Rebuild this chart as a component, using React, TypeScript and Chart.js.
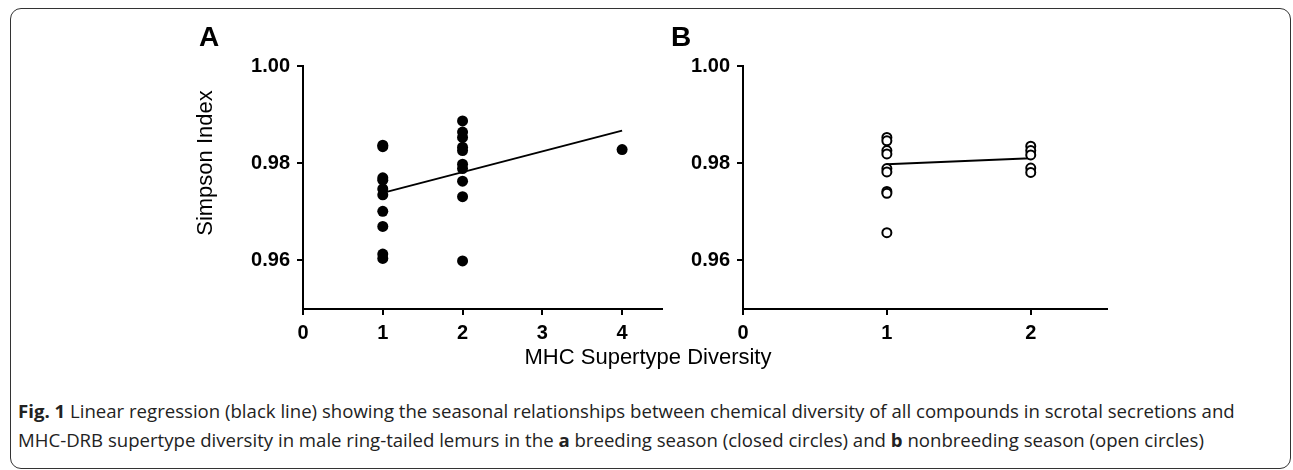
import React, { useEffect, useRef } from "react";
import { Chart, registerables } from "chart.js";

Chart.register(...registerables);

// ---- Data ----
const xTicksA = [0, 1, 2, 3, 4];
const xTicksB = [0, 1, 2];
const yTicks = [0.96, 0.98, 1.0];

const breedingX = [1, 1, 1, 1, 1, 1, 1, 1, 1, 1, 2, 2, 2, 2, 2, 2, 2, 2, 2, 2, 4];
const breedingY = [
  0.9837, 0.9834, 0.977, 0.9765, 0.9747, 0.9735, 0.9701, 0.967, 0.9613, 0.9604,
  0.9887, 0.9864, 0.9853, 0.9833, 0.9826, 0.9798, 0.9789, 0.9763, 0.9731, 0.9599,
  0.9828,
];
const breedingFitX = [1, 4];
const breedingFitY = [0.9739, 0.9867];

const nonbreedingX = [1, 1, 1, 1, 1, 1, 1, 1, 1, 2, 2, 2, 2, 2];
const nonbreedingY = [
  0.9853, 0.9846, 0.9826, 0.9819, 0.9789, 0.9782, 0.9742, 0.9738, 0.9657,
  0.9835, 0.9826, 0.9817, 0.979, 0.9781,
];
const nonbreedingFitX = [1, 2];
const nonbreedingFitY = [0.9798, 0.981];

const FONT = "'Liberation Sans', Arial, sans-serif";

function pts(xs: number[], ys: number[]) {
  return xs.map((x, i) => ({ x, y: ys[i] }));
}

function makeConfig(
  xs: number[],
  ys: number[],
  fx: number[],
  fy: number[],
  xTicks: number[],
  xMax: number,
  filled: boolean,
  padRight: number
): any {
  return {
    type: "scatter",
    data: {
      datasets: [
        {
          data: pts(xs, ys),
          pointRadius: filled ? 5.5 : 4.5,
          pointBorderWidth: filled ? 0 : 2,
          pointBackgroundColor: filled ? "#000" : "#fff",
          pointBorderColor: "#000",
          showLine: false,
        },
        {
          data: pts(fx, fy),
          showLine: true,
          borderColor: "#000",
          borderWidth: 2,
          pointRadius: 0,
          fill: false,
        },
      ],
    },
    options: {
      animation: false,
      responsive: false,
      devicePixelRatio: 1,
      layout: { padding: { top: 26, right: padRight, left: 0, bottom: 0 } },
      plugins: {
        legend: { display: false },
        tooltip: { enabled: false },
      },
      scales: {
        x: {
          type: "linear",
          min: 0,
          max: xMax,
          afterBuildTicks: (s: any) => {
            s.ticks = xTicks.map((v) => ({ value: v }));
          },
          afterFit: (s: any) => {
            s.height = 41;
          },
          ticks: {
            color: "#000",
            font: { family: FONT, size: 20, weight: "bold" },
            padding: 6,
            callback: (v: any) => String(v),
            maxRotation: 0,
          },
          grid: {
            display: true,
            drawOnChartArea: false,
            drawTicks: true,
            tickLength: 6,
            color: "#000",
            lineWidth: 2,
          },
          border: { display: true, color: "#000", width: 2 },
        },
        y: {
          type: "linear",
          min: 0.95,
          max: 1.0,
          afterBuildTicks: (s: any) => {
            s.ticks = yTicks.map((v) => ({ value: v }));
          },
          afterFit: (s: any) => {
            s.width = 103;
          },
          ticks: {
            color: "#000",
            font: { family: FONT, size: 20, weight: "bold" },
            padding: 7,
            callback: (v: any) => Number(v).toFixed(2),
          },
          grid: {
            display: true,
            drawOnChartArea: false,
            drawTicks: true,
            tickLength: 6,
            color: "#000",
            lineWidth: 2,
          },
          border: { display: true, color: "#000", width: 2 },
        },
      },
    },
  };
}

export default function App() {
  const refA = useRef<HTMLCanvasElement | null>(null);
  const refB = useRef<HTMLCanvasElement | null>(null);

  useEffect(() => {
    const a = new Chart(
      refA.current as HTMLCanvasElement,
      makeConfig(breedingX, breedingY, breedingFitX, breedingFitY, xTicksA, 4.5, true, 18)
    );
    const b = new Chart(
      refB.current as HTMLCanvasElement,
      makeConfig(nonbreedingX, nonbreedingY, nonbreedingFitX, nonbreedingFitY, xTicksB, 2.53, false, 23)
    );
    return () => {
      a.destroy();
      b.destroy();
    };
  }, []);

  return (
    <div
      style={{
        position: "fixed",
        left: 0,
        top: 0,
        width: 1293,
        height: 470,
        background: "#fff",
        overflow: "hidden",
      }}
    >
      <div
        style={{
          position: "absolute",
          left: 10,
          top: 8,
          width: 1279,
          height: 459,
          border: "1.5px solid #333",
          borderRadius: 11,
        }}
      />
      <canvas
        ref={refA}
        width={480}
        height={310}
        style={{ position: "absolute", left: 200, top: 40, width: 480, height: 310 }}
      />
      <canvas
        ref={refB}
        width={490}
        height={310}
        style={{ position: "absolute", left: 640, top: 40, width: 490, height: 310 }}
      />
      <div
        style={{
          position: "absolute",
          left: 199,
          top: 21,
          fontFamily: FONT,
          fontWeight: "bold",
          fontSize: 28,
          lineHeight: "32px",
        }}
      >
        A
      </div>
      <div
        style={{
          position: "absolute",
          left: 671,
          top: 21,
          fontFamily: FONT,
          fontWeight: "bold",
          fontSize: 28,
          lineHeight: "32px",
        }}
      >
        B
      </div>
      <div
        style={{
          position: "absolute",
          left: 205,
          top: 163,
          transform: "translate(-50%, -50%) rotate(-90deg)",
          fontFamily: FONT,
          fontSize: 22,
          whiteSpace: "nowrap",
        }}
      >
        Simpson Index
      </div>
      <div
        style={{
          position: "absolute",
          left: 648,
          top: 357,
          transform: "translate(-50%, -50%)",
          fontFamily: FONT,
          fontSize: 22,
          whiteSpace: "nowrap",
        }}
      >
        MHC Supertype Diversity
      </div>
      <div
        style={{
          position: "absolute",
          left: 18,
          top: 396,
          width: 1265,
          fontFamily: "'Open Sans', sans-serif",
          fontSize: 18.6,
          lineHeight: "29px",
          color: "#222",
        }}
      >
        <div style={{ whiteSpace: "nowrap" }}>
          <b>Fig. 1</b> Linear regression (black line) showing the seasonal relationships between chemical diversity of all compounds in scrotal secretions and
        </div>
        <div style={{ whiteSpace: "nowrap" }}>
          MHC-DRB supertype diversity in male ring-tailed lemurs in the <b>a</b> breeding season (closed circles) and <b>b</b> nonbreeding season (open circles)
        </div>
      </div>
    </div>
  );
}
